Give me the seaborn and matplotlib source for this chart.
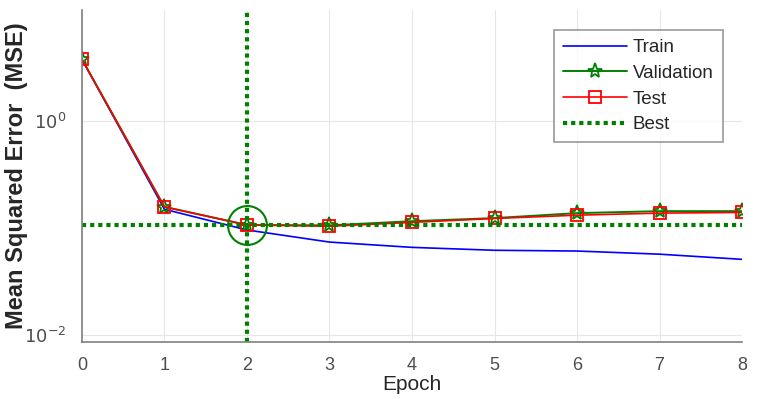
import numpy as np
import pandas as pd
import matplotlib
matplotlib.use("Agg")
import matplotlib.pyplot as plt
import seaborn as sns

epochs = [0, 1, 2, 3, 4, 5, 6, 7, 8]
train = [3.8, 0.150, 0.096, 0.074, 0.066, 0.062, 0.061, 0.057, 0.051]
validation = [3.8, 0.158, 0.107, 0.106, 0.116, 0.124, 0.138, 0.144, 0.144]
test = [3.8, 0.158, 0.107, 0.104, 0.113, 0.123, 0.132, 0.138, 0.140]
best_epoch = 2
best_value = 0.107

sns.set_style("white")
plt.rcParams['font.family'] = ['Liberation Sans', 'DejaVu Sans']

df = pd.DataFrame({"Epoch": epochs, "Train": train, "Validation": validation, "Test": test})

fig = plt.figure(figsize=(7.58, 3.99), dpi=100)
ax = fig.add_axes([0.108, 0.143, 0.871, 0.832])

sns.lineplot(data=df, x="Epoch", y="Train", ax=ax, color="#0000ff", lw=1.2, label="Train")
sns.lineplot(data=df, x="Epoch", y="Validation", ax=ax, color="#008000", lw=1.4,
             marker="*", markersize=11, markerfacecolor="none", markeredgecolor="#008000",
             markeredgewidth=1.3, label="Validation")
sns.lineplot(data=df, x="Epoch", y="Test", ax=ax, color="#ff0000", lw=1.2,
             marker="s", markersize=8, markerfacecolor="none", markeredgecolor="#ff0000",
             markeredgewidth=1.3, label="Test")

ax.set_yscale("log")
ax.set_xlim(0, 8)
ax.set_ylim(10**-2.065, 10**1.04)

ax.axhline(best_value, color="#008000", lw=3, ls=(0, (1.0, 0.95)), label="Best")
ax.axvline(best_epoch, color="#008000", lw=3, ls=(0, (1.0, 0.95)))
ax.plot([best_epoch], [best_value], marker="o", markersize=28, markerfacecolor="none",
        markeredgecolor="#008000", markeredgewidth=1.5, zorder=5)

ax.set_yticks([1e-2, 1e0])
ax.set_yticklabels([r"$10^{-2}$", r"$10^{0}$"])
ax.yaxis.set_minor_locator(matplotlib.ticker.NullLocator())
ax.set_xticks(epochs)
ax.grid(True, color="#e6e6e6", lw=0.8)
ax.set_axisbelow(True)
for s in ["top", "right"]:
    ax.spines[s].set_visible(False)
for s in ["left", "bottom"]:
    ax.spines[s].set_color("#808080")
    ax.spines[s].set_linewidth(1.2)
ax.tick_params(axis="both", direction="in", length=4, colors="#808080",
               labelcolor="#4d4d4d", labelsize=13, pad=11)

ax.set_xlabel("Epoch", fontsize=15, color="#262626")
ax.xaxis.set_label_coords(0.5, -0.1)
ax.set_ylabel("Mean Squared Error  (MSE)", fontsize=17, fontweight="bold", color="#262626")
ax.yaxis.set_label_coords(-0.081, 0.5)

leg = ax.legend(loc="upper right", bbox_to_anchor=(0.971, 0.94), borderaxespad=0, fontsize=13.5,
                frameon=True, fancybox=False, edgecolor="#808080", handlelength=3.4,
                handletextpad=0.3, borderpad=0.5, labelspacing=0.45)
leg.get_frame().set_linewidth(1.2)

fig.savefig("out.png", dpi=100)
